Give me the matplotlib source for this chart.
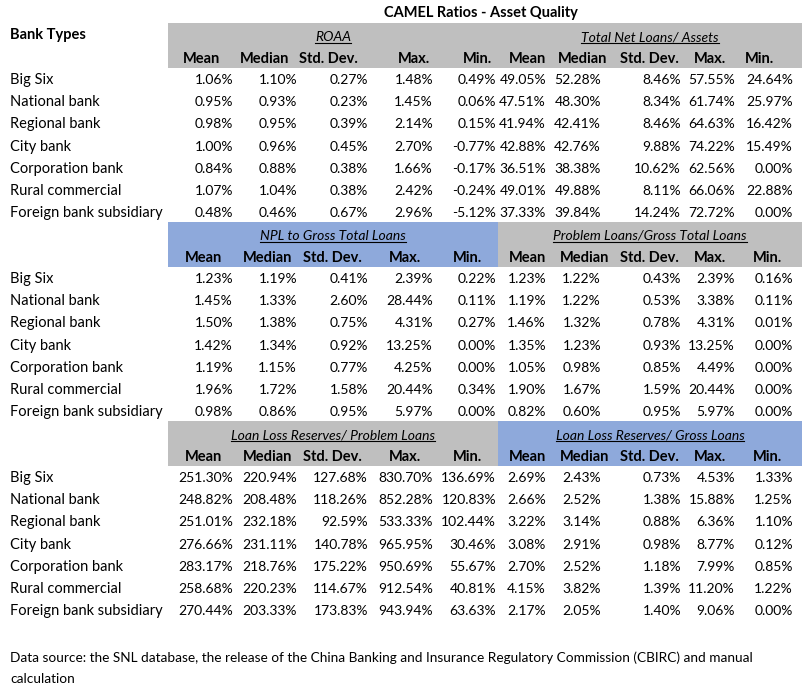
import matplotlib
matplotlib.use("Agg")
import matplotlib.pyplot as plt

# Table data (values in %)
title = "CAMEL Ratios - Asset Quality"
bank_types = ["Big Six", "National bank", "Regional bank", "City bank",
              "Corporation bank", "Rural commercial", "Foreign bank subsidiary"]
stat_names = ["Mean", "Median", "Std. Dev.", "Max.", "Min."]

roaa = [
    [1.06, 1.10, 0.27, 1.48, 0.49],
    [0.95, 0.93, 0.23, 1.45, 0.06],
    [0.98, 0.95, 0.39, 2.14, 0.15],
    [1.00, 0.96, 0.45, 2.70, -0.77],
    [0.84, 0.88, 0.38, 1.66, -0.17],
    [1.07, 1.04, 0.38, 2.42, -0.24],
    [0.48, 0.46, 0.67, 2.96, -5.12],
]
net_loans_assets = [
    [49.05, 52.28, 8.46, 57.55, 24.64],
    [47.51, 48.30, 8.34, 61.74, 25.97],
    [41.94, 42.41, 8.46, 64.63, 16.42],
    [42.88, 42.76, 9.88, 74.22, 15.49],
    [36.51, 38.38, 10.62, 62.56, 0.00],
    [49.01, 49.88, 8.11, 66.06, 22.88],
    [37.33, 39.84, 14.24, 72.72, 0.00],
]
npl_gross = [
    [1.23, 1.19, 0.41, 2.39, 0.22],
    [1.45, 1.33, 2.60, 28.44, 0.11],
    [1.50, 1.38, 0.75, 4.31, 0.27],
    [1.42, 1.34, 0.92, 13.25, 0.00],
    [1.19, 1.15, 0.77, 4.25, 0.00],
    [1.96, 1.72, 1.58, 20.44, 0.34],
    [0.98, 0.86, 0.95, 5.97, 0.00],
]
problem_gross = [
    [1.23, 1.22, 0.43, 2.39, 0.16],
    [1.19, 1.22, 0.53, 3.38, 0.11],
    [1.46, 1.32, 0.78, 4.31, 0.01],
    [1.35, 1.23, 0.93, 13.25, 0.00],
    [1.05, 0.98, 0.85, 4.49, 0.00],
    [1.90, 1.67, 1.59, 20.44, 0.00],
    [0.82, 0.60, 0.95, 5.97, 0.00],
]
llr_problem = [
    [251.30, 220.94, 127.68, 830.70, 136.69],
    [248.82, 208.48, 118.26, 852.28, 120.83],
    [251.01, 232.18, 92.59, 533.33, 102.44],
    [276.66, 231.11, 140.78, 965.95, 30.46],
    [283.17, 218.76, 175.22, 950.69, 55.67],
    [258.68, 220.23, 114.67, 912.54, 40.81],
    [270.44, 203.33, 173.83, 943.94, 63.63],
]
llr_gross = [
    [2.69, 2.43, 0.73, 4.53, 1.33],
    [2.66, 2.52, 1.38, 15.88, 1.25],
    [3.22, 3.14, 0.88, 6.36, 1.10],
    [3.08, 2.91, 0.98, 8.77, 0.12],
    [2.70, 2.52, 1.18, 7.99, 0.85],
    [4.15, 3.82, 1.39, 11.20, 1.22],
    [2.17, 2.05, 1.40, 9.06, 0.00],
]

blocks = [
    ("ROAA", roaa, "Total Net Loans/ Assets", net_loans_assets),
    ("NPL to Gross Total Loans", npl_gross, "Problem Loans/Gross Total Loans", problem_gross),
    ("Loan Loss Reserves/ Problem Loans", llr_problem, "Loan Loss Reserves/ Gross Loans", llr_gross),
]
footer_lines = ["Data source: the SNL database, the release of the China Banking and Insurance "
                "Regulatory Commission (CBIRC) and manual",
                "calculation"]

GREY = "#BFBFBF"
BLUE = "#8EA9DB"
band_colors = [(GREY, GREY), (BLUE, GREY), (GREY, BLUE)]

FONT = ["Lato", "DejaVu Sans"]

W, H = 802, 686
fig = plt.figure(figsize=(W / 100, H / 100), dpi=100)
ax = fig.add_axes([0, 0, 1, 1])
ax.set_xlim(0, W)
ax.set_ylim(H, 0)
ax.axis("off")

# layout (pixels)
band_x0, band_mid, band_x1 = 168, 498, 802
block_top = [23, 222, 421]
band_h = 45
row_h = 22.2
col_right = [233, 297, 368, 433, 496, 546, 601, 681, 735, 793]
head_centers = [[202, 265, 328, 414, 478, 527, 583, 649, 710, 760],
                [203, 268, 332, 405, 468, 527, 585, 649, 710, 767],
                [203, 268, 332, 405, 468, 527, 585, 649, 710, 767]]

ax.text(481, 13, title, ha="center", va="center", fontsize=10.5,
        fontweight="bold", family=FONT)
ax.text(10, 35, "Bank Types", ha="left", va="center", fontsize=10.5,
        fontweight="bold", family=FONT)

underlined = []
for b, (name_l, vals_l, name_r, vals_r) in enumerate(blocks):
    top = block_top[b]
    cl, cr = band_colors[b]
    ax.add_patch(plt.Rectangle((band_x0, top), band_mid - band_x0, band_h,
                               color=cl, lw=0, zorder=0))
    ax.add_patch(plt.Rectangle((band_mid, top), band_x1 - band_mid, band_h,
                               color=cr, lw=0, zorder=0))
    for name, cx in ((name_l, (band_x0 + band_mid) / 2), (name_r, (band_mid + band_x1) / 2)):
        t = ax.text(cx, top + 18, name, ha="center", va="baseline", fontsize=10,
                    style="italic", family=FONT)
        underlined.append((t, top + 20))
    for j, cx in enumerate(head_centers[b]):
        ax.text(cx, top + 36, stat_names[j % 5], ha="center", va="center",
                fontsize=10.5, fontweight="bold", family=FONT)
    for i, bank in enumerate(bank_types):
        y = top + 57 + i * row_h
        ax.text(10, y, bank, ha="left", va="center", fontsize=10.5, family=FONT)
        row = vals_l[i] + vals_r[i]
        for j, v in enumerate(row):
            ax.text(col_right[j], y, f"{v:.2f}%", ha="right", va="center",
                    fontsize=10, family=FONT)

for k, line in enumerate(footer_lines):
    ax.text(10, 658 + k * 21, line, ha="left", va="center", fontsize=9.8, family=FONT)

# underline the block titles
fig.canvas.draw()
inv = ax.transData.inverted()
for t, yl in underlined:
    bb = t.get_window_extent()
    (x0, _), (x1, _) = inv.transform([[bb.x0, bb.y0], [bb.x1, bb.y1]])
    ax.plot([x0, x1], [yl, yl], color="black", lw=0.8)

fig.savefig("out.png", dpi=100)
